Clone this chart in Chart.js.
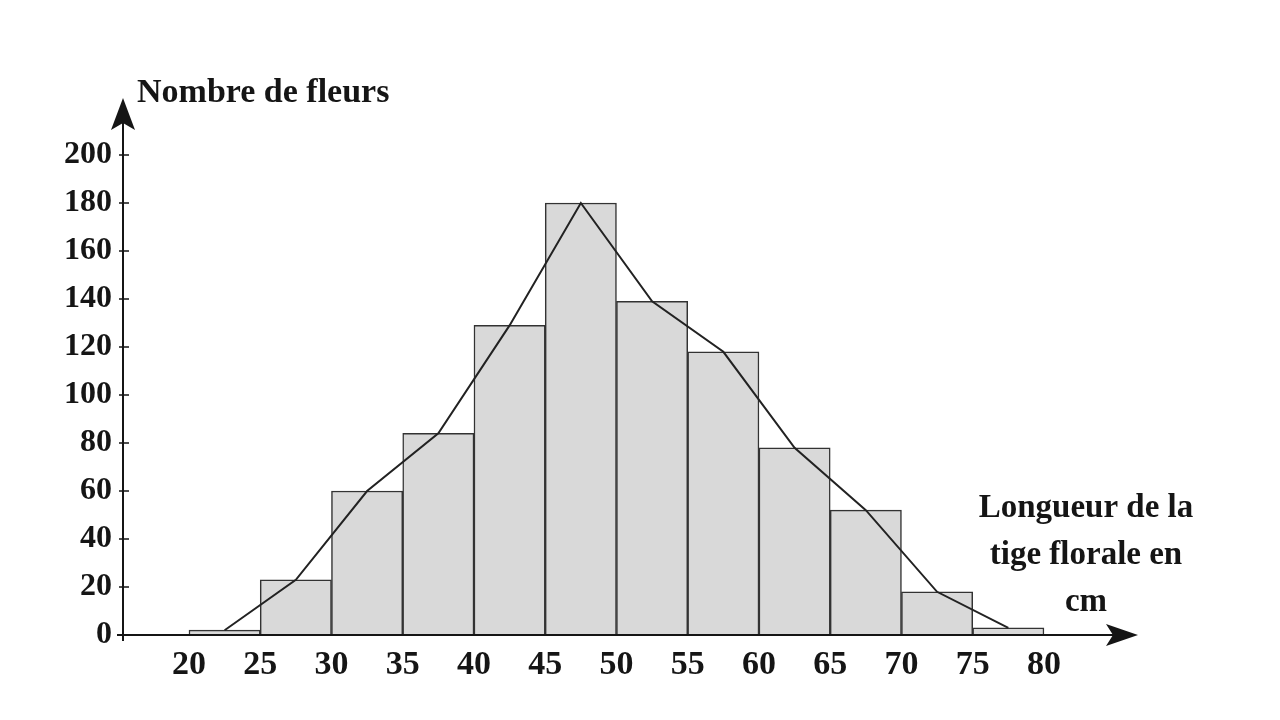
<!DOCTYPE html>
<html>
<head>
<meta charset="utf-8">
<script src="https://cdn.jsdelivr.net/npm/chart.js@4.4.1/dist/chart.umd.min.js"></script>
<style>
  html, body { margin: 0; padding: 0; background: #fff; }
</style>
</head>
<body>
<canvas id="histo" width="1280" height="720"></canvas>
<script>
// centres des classes [20;25[, [25;30[ ... [75;80[
const classCentres = [22.5, 27.5, 32.5, 37.5, 42.5, 47.5, 52.5, 57.5, 62.5, 67.5, 72.5, 77.5];
const effectifs = [2, 23, 60, 84, 129, 180, 139, 118, 78, 52, 18, 3];
const xTickLabels = [20, 25, 30, 35, 40, 45, 50, 55, 60, 65, 70, 75, 80];
const yTickLabels = [0, 20, 40, 60, 80, 100, 120, 140, 160, 180, 200];

const yTitle = 'Nombre de fleurs';
const xTitle = ['Longueur de la', 'tige florale en', 'cm'];

// axis extent (the arrows go a bit past the last class)
const xMin = 15.37;
const xMax = 86.6;
const yMax = 223.75;

const ink = '#151515';
const serif = '"Liberation Serif", "Times New Roman", serif';

const points = classCentres.map((c, i) => ({ x: c, y: effectifs[i] }));

// axes with arrowheads + titles, drawn over the bars
const axesPlugin = {
  id: 'axesArrows',
  afterDraw(chart) {
    const { ctx, chartArea } = chart;
    const x0 = chartArea.left;
    const y0 = chart.scales.y.getPixelForValue(0);
    const xEnd = chartArea.right;
    const yEnd = chartArea.top;

    ctx.save();
    ctx.strokeStyle = ink;
    ctx.fillStyle = ink;
    ctx.lineWidth = 2;

    ctx.beginPath();
    ctx.moveTo(x0 - 6, y0);
    ctx.lineTo(xEnd - 10, y0);
    ctx.moveTo(x0, y0 + 6);
    ctx.lineTo(x0, yEnd + 10);
    ctx.stroke();

    // small tick marks on the y axis
    ctx.lineWidth = 1.5;
    ctx.beginPath();
    yTickLabels.forEach(v => {
      const py = chart.scales.y.getPixelForValue(v);
      ctx.moveTo(x0 - 4, py);
      ctx.lineTo(x0 + 6, py);
    });
    ctx.stroke();

    // arrow heads
    ctx.beginPath();
    ctx.moveTo(x0, yEnd);
    ctx.lineTo(x0 + 12, yEnd + 32);
    ctx.lineTo(x0, yEnd + 25);
    ctx.lineTo(x0 - 12, yEnd + 32);
    ctx.closePath();
    ctx.fill();

    ctx.beginPath();
    ctx.moveTo(xEnd, y0);
    ctx.lineTo(xEnd - 32, y0 - 11);
    ctx.lineTo(xEnd - 25, y0);
    ctx.lineTo(xEnd - 32, y0 + 11);
    ctx.closePath();
    ctx.fill();

    ctx.font = 'bold 34px ' + serif;
    ctx.textAlign = 'left';
    ctx.textBaseline = 'alphabetic';
    ctx.fillText(yTitle, 137, 102);

    ctx.font = 'bold 33px ' + serif;
    ctx.textAlign = 'center';
    xTitle.forEach((line, i) => ctx.fillText(line, 1086, 517 + i * 47));
    ctx.restore();
  }
};

const ctx = document.getElementById('histo').getContext('2d');

new Chart(ctx, {
  data: {
    datasets: [
      {
        type: 'line',
        data: points,
        borderColor: '#222',
        borderWidth: 2,
        pointRadius: 0,
        tension: 0,
        order: 0
      },
      {
        type: 'bar',
        data: points,
        backgroundColor: '#d9d9d9',
        borderColor: '#333',
        borderWidth: 1.5,
        barPercentage: 1,
        categoryPercentage: 1,
        order: 1
      }
    ]
  },
  options: {
    responsive: false,
    animation: false,
    layout: { padding: { left: 0, top: 98, right: 142, bottom: 0 } },
    plugins: {
      legend: { display: false },
      tooltip: { enabled: false }
    },
    scales: {
      x: {
        type: 'linear',
        offset: false,
        min: xMin,
        max: xMax,
        grid: { display: false, drawTicks: false, offset: false },
        border: { display: false },
        afterFit: (scale) => { scale.height = 85; },
        afterBuildTicks: (scale) => { scale.ticks = xTickLabels.map(v => ({ value: v })); },
        ticks: {
          padding: 10,
          maxRotation: 0,
          autoSkip: false,
          color: ink,
          font: { family: serif, size: 34, weight: 'bold' }
        }
      },
      y: {
        min: 0,
        max: yMax,
        grid: { display: false, drawTicks: false },
        border: { display: false },
        afterFit: (scale) => { scale.width = 123; },
        afterBuildTicks: (scale) => { scale.ticks = yTickLabels.map(v => ({ value: v })); },
        ticks: {
          padding: 11,
          autoSkip: false,
          color: ink,
          font: { family: serif, size: 32, weight: 'bold' }
        }
      }
    }
  },
  plugins: [axesPlugin]
});
</script>
</body>
</html>
